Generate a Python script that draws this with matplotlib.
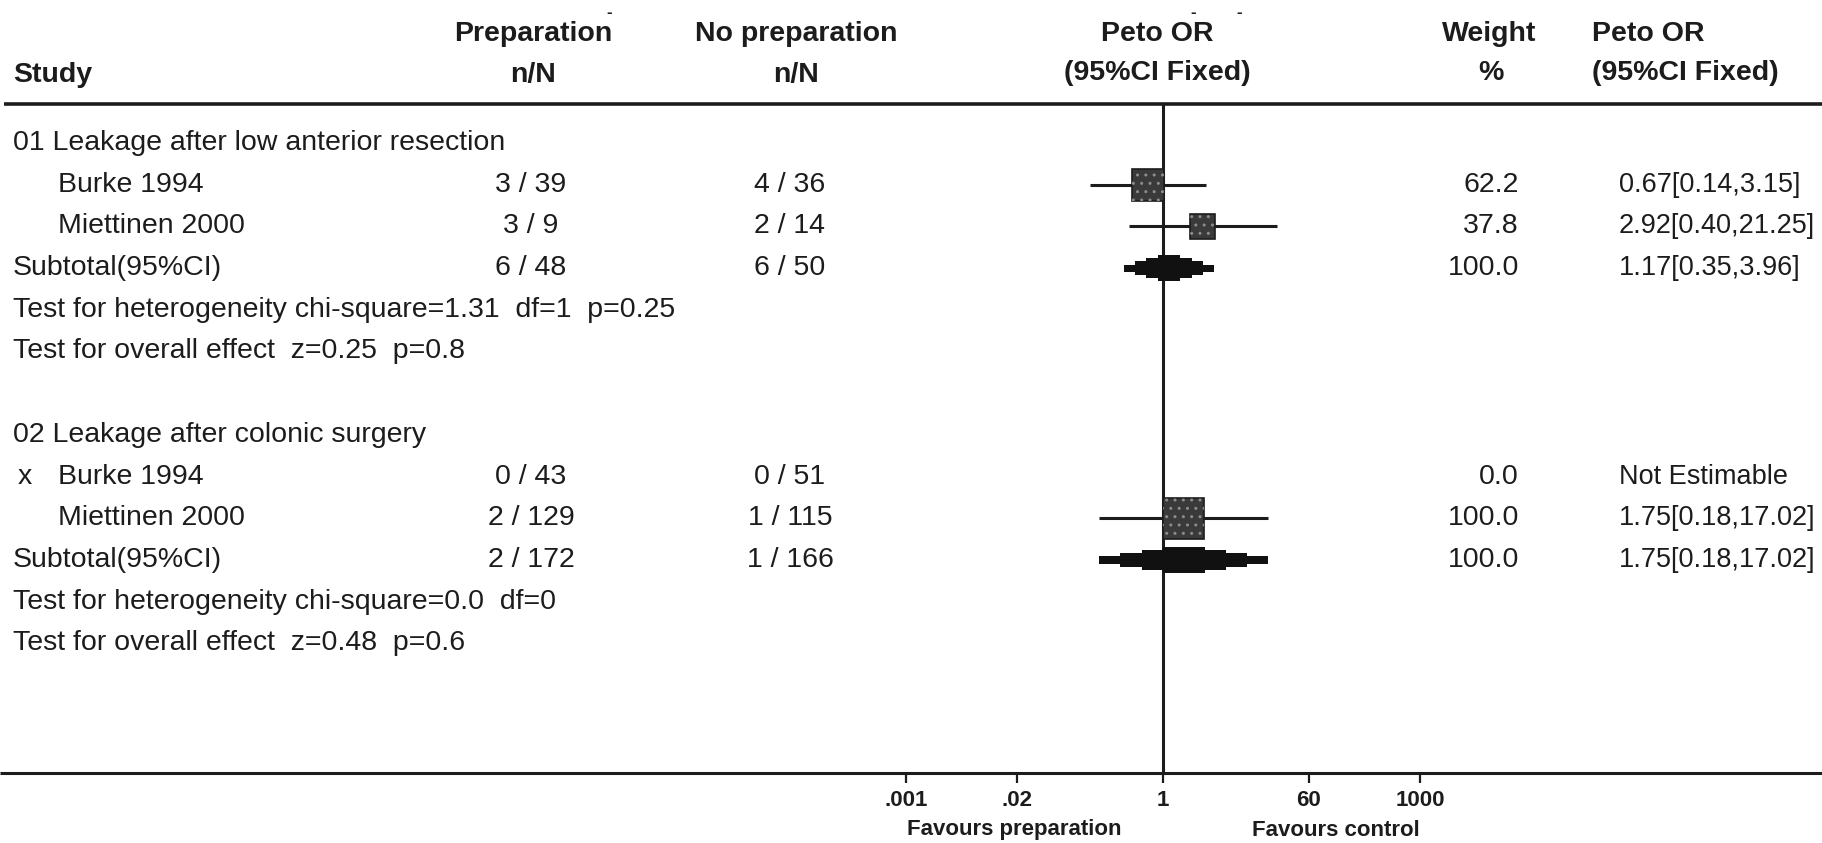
import numpy as np
import matplotlib.pyplot as plt
from matplotlib.patches import Rectangle

plt.rcParams['font.family'] = ['Liberation Sans', 'DejaVu Sans']

W, H = 1822, 843

# --- data ---
group_titles = ['01 Leakage after low anterior resection',
                '02 Leakage after colonic surgery']
study_group = [0, 0, 1, 1]
study_names = ['Burke 1994', 'Miettinen 2000', 'Burke 1994', 'Miettinen 2000']
study_flag = ['', '', 'x', '']
prep_nN = ['3 / 39', '3 / 9', '0 / 43', '2 / 129']
noprep_nN = ['4 / 36', '2 / 14', '0 / 51', '1 / 115']
study_or = [0.67, 2.92, np.nan, 1.75]
study_lo = [0.14, 0.40, np.nan, 0.18]
study_hi = [3.15, 21.25, np.nan, 17.02]
study_weight = [62.2, 37.8, 0.0, 100.0]

sub_prep = ['6 / 48', '2 / 172']
sub_noprep = ['6 / 50', '1 / 166']
sub_or = [1.17, 1.75]
sub_lo = [0.35, 0.18]
sub_hi = [3.96, 17.02]
sub_weight = [100.0, 100.0]
het_text = ['Test for heterogeneity chi-square=1.31  df=1  p=0.25',
            'Test for heterogeneity chi-square=0.0  df=0']
overall_text = ['Test for overall effect  z=0.25  p=0.8',
                'Test for overall effect  z=0.48  p=0.6']

tick_values = [0.001, 0.02, 1, 50, 1000]
tick_labels = ['.001', '.02', '1', '60', '1000']


def or_label(o, lo, hi):
    if np.isnan(o):
        return 'Not Estimable'
    return f'{o:.2f}[{lo:.2f},{hi:.2f}]'


# build the row list
rows = []
for g, title in enumerate(group_titles):
    rows.append(('title', g))
    for i, sg in enumerate(study_group):
        if sg == g:
            rows.append(('study', i))
    rows.append(('sub', g))
    rows.append(('het', g))
    rows.append(('overall', g))
    if g < len(group_titles) - 1:
        rows.append(('blank', g))

y0, dy = 143, 41.7
ink = '#1c1c1c'
fs = 20.5

fig = plt.figure(figsize=(W / 100, H / 100), dpi=100)
ax = fig.add_axes([0, 0, 1, 1])
ax.set_xlim(0, W)
ax.set_ylim(H, 0)
ax.axis('off')

# forest panel: log scale between .001 and 1000
fx0, fx1 = 906, 1420
fa = fig.add_axes([fx0 / W, 0, (fx1 - fx0) / W, 1])
fa.set_xscale('log')
fa.set_xlim(0.001, 1000)
fa.set_ylim(H, 0)
fa.patch.set_visible(False)
for s in fa.spines.values():
    s.set_visible(False)
fa.spines['bottom'].set_position(('data', 773))
fa.set_yticks([])
fa.set_xticks(tick_values, tick_labels)
fa.xaxis.set_minor_locator(plt.NullLocator())
fa.tick_params(axis='x', direction='out', length=7, width=1.6, pad=5,
               labelsize=16, colors=ink)
for lab in fa.get_xticklabels():
    lab.set_fontweight('bold')
px_per_dec = (fx1 - fx0) / 6.0

# header
hb = dict(fontsize=fs, fontweight='bold', color=ink, va='center')
ax.text(13, 75, 'Study', ha='left', **hb)
ax.text(533, 34, 'Preparation', ha='center', **hb)
ax.text(533, 75, 'n/N', ha='center', **hb)
ax.text(796, 34, 'No preparation', ha='center', **hb)
ax.text(796, 75, 'n/N', ha='center', **hb)
ax.text(1157, 34, 'Peto OR', ha='center', **hb)
ax.text(1157, 73, '(95%CI Fixed)', ha='center', **hb)
ax.text(1489, 34, 'Weight', ha='center', **hb)
ax.text(1491, 73, '%', ha='center', **hb)
ax.text(1592, 34, 'Peto OR', ha='left', **hb)
ax.text(1592, 73, '(95%CI Fixed)', ha='left', **hb)
for dx, dyy in [(609, 12), (1193, 12), (1239, 12)]:
    ax.text(dx, dyy, '-', ha='center', va='center', fontsize=12,
            fontweight='bold', color=ink)

ax.plot([4, W], [104, 104], color=ink, lw=2.6, solid_capstyle='butt')
ax.plot([0, W], [773, 773], color=ink, lw=2.2, solid_capstyle='butt')
fa.plot([1, 1], [104, 773], color=ink, lw=2.2)

tb = dict(fontsize=fs, color=ink, va='center')
tr = dict(fontsize=19.5, color=ink, va='center')


def square(o, lo, hi, w, y):
    fa.plot([lo, hi], [y, y], color=ink, lw=2.2, solid_capstyle='butt')
    side = 41 * np.sqrt(w / 100.0)
    hd = side / 2 / px_per_dec
    left, right = o * 10 ** -hd, o * 10 ** hd
    fa.add_patch(Rectangle((left, y - side / 2), right - left, side,
                           facecolor='#3a3a3a', edgecolor=ink, lw=1.2, zorder=3))
    fa.add_patch(Rectangle((left, y - side / 2), right - left, side,
                           facecolor='none', edgecolor='#8c8c8c', hatch='..',
                           lw=0, zorder=4))


def diamond(o, lo, hi, y, half=13, steps=4):
    lc, lo_, hi_ = np.log10(o), np.log10(lo), np.log10(hi)
    band = half / steps
    for j in range(steps):
        f = 1 - j / steps
        a = 10 ** (lc - f * (lc - lo_))
        b = 10 ** (lc + f * (hi_ - lc))
        for sgn in (-1, 1):
            yc = y + sgn * (j + 0.5) * band
            fa.barh(yc, b - a, left=a, height=band + 0.6, color='#111111',
                    zorder=3)


for k, (kind, idx) in enumerate(rows):
    y = y0 + k * dy
    if kind == 'title':
        ax.text(13, y, group_titles[idx], ha='left', **tb)
    elif kind == 'study':
        if study_flag[idx]:
            ax.text(18, y, study_flag[idx], ha='left', **tb)
        ax.text(58, y, study_names[idx], ha='left', **tb)
        ax.text(531, y, prep_nN[idx], ha='center', **tb)
        ax.text(790, y, noprep_nN[idx], ha='center', **tb)
        ax.text(1519, y, f'{study_weight[idx]:.1f}', ha='right', **tb)
        ax.text(1619, y, or_label(study_or[idx], study_lo[idx], study_hi[idx]),
                ha='left', **tr)
        if not np.isnan(study_or[idx]):
            square(study_or[idx], study_lo[idx], study_hi[idx],
                   study_weight[idx], y)
    elif kind == 'sub':
        ax.text(13, y, 'Subtotal(95%CI)', ha='left', **tb)
        ax.text(531, y, sub_prep[idx], ha='center', **tb)
        ax.text(790, y, sub_noprep[idx], ha='center', **tb)
        ax.text(1519, y, f'{sub_weight[idx]:.1f}', ha='right', **tb)
        ax.text(1619, y, or_label(sub_or[idx], sub_lo[idx], sub_hi[idx]),
                ha='left', **tr)
        diamond(sub_or[idx], sub_lo[idx], sub_hi[idx], y)
    elif kind == 'het':
        ax.text(13, y, het_text[idx], ha='left', **tb)
    elif kind == 'overall':
        ax.text(13, y, overall_text[idx], ha='left', **tb)

fb = dict(fontsize=16, fontweight='bold', color=ink, ha='center', va='center')
ax.text(1014, 830, 'Favours preparation', **fb)
ax.text(1336, 830, 'Favours control', **fb)

fig.savefig('out.png', dpi=100, facecolor='white')
